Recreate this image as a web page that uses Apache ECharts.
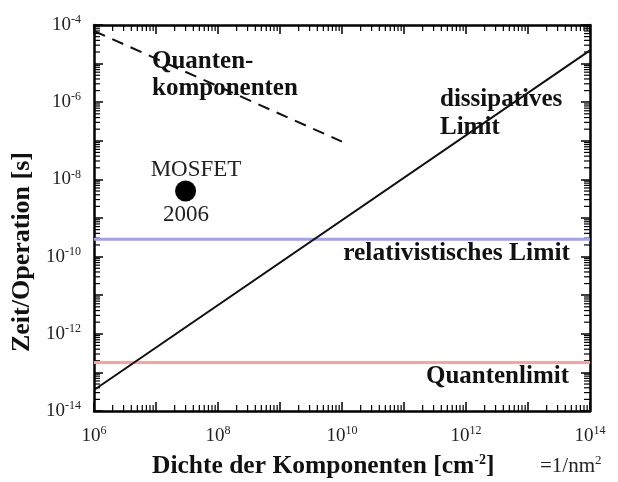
<!DOCTYPE html>
<html>
<head>
<meta charset="utf-8">
<script src="https://cdn.jsdelivr.net/npm/echarts@6/dist/echarts.min.js"></script>
<style>
html,body{margin:0;padding:0;background:#fff;}
#chart{width:618px;height:482px;}
</style>
</head>
<body>
<div id="chart"></div>
<script>
// ---- data ----
const xRange = [1e6, 1e14];
const yRange = [1e-14, 1e-4];
const dissipativeX = [1e6, 1e14];
const dissipativeY = [3.5e-14, 2.2e-5];
const quantumCompX = [1e6, 1e10];
const quantumCompY = [7e-5, 9.5e-8];
const relativisticY = 2.8e-10;
const quantumLimitY = 1.8e-13;
const mosfetPoint = [3e7, 5e-9];
const xDecades = [6, 7, 8, 9, 10, 11, 12, 13];
const yDecades = [-14, -13, -12, -11, -10, -9, -8, -7, -6, -5];
const minorFactors = [2, 3, 4, 5, 6, 7, 8, 9];

const FONT = "'Liberation Serif', 'Times New Roman', serif";

const minorX = [];
xDecades.forEach(e => minorFactors.forEach(k => minorX.push([k * Math.pow(10, e), yRange[0]])));
const minorY = [];
yDecades.forEach(e => minorFactors.forEach(k => minorY.push([xRange[0], k * Math.pow(10, e)])));

function expLabel(v) {
  const e = Math.round(Math.log10(v));
  if (e % 2 !== 0) return '';
  return '{b|10}{s|' + e + '}';
}
const labelRich = {
  b: {fontFamily: FONT, fontSize: 19, color: '#222', lineHeight: 22},
  s: {fontFamily: FONT, fontSize: 12, color: '#222', verticalAlign: 'top', lineHeight: 12}
};

const axisBase = {
  type: 'log', logBase: 10, interval: 1,
  axisLine: {show: true, onZero: false, lineStyle: {color: '#000', width: 2.5}},
  axisTick: {show: true, inside: true, length: 9, lineStyle: {color: '#000', width: 1.5}},
  splitLine: {show: false},
  minorTick: {show: false}
};

const chart = echarts.init(document.getElementById('chart'), null, {renderer: 'canvas'});
chart.setOption({
  animation: false,
  backgroundColor: '#fff',
  grid: {left: 94, right: 28, top: 25, bottom: 71},
  xAxis: [
    Object.assign({}, axisBase, {position: 'bottom', min: xRange[0], max: xRange[1],
      axisLabel: {show: true, margin: 14, formatter: expLabel, rich: labelRich}}),
    Object.assign({}, axisBase, {position: 'top', min: xRange[0], max: xRange[1], axisLabel: {show: false}})
  ],
  yAxis: [
    Object.assign({}, axisBase, {position: 'left', min: yRange[0], max: yRange[1],
      axisLabel: {show: true, margin: 13, formatter: expLabel, rich: labelRich}}),
    Object.assign({}, axisBase, {position: 'right', min: yRange[0], max: yRange[1], axisLabel: {show: false}})
  ],
  series: [
    {type: 'line', symbol: 'none', lineStyle: {color: '#a0a0f5', width: 3},
      data: [[xRange[0], relativisticY], [xRange[1], relativisticY]]},
    {type: 'line', symbol: 'none', lineStyle: {color: '#f5a3a3', width: 3},
      data: [[xRange[0], quantumLimitY], [xRange[1], quantumLimitY]]},
    {type: 'line', symbol: 'none', lineStyle: {color: '#111', width: 2},
      data: dissipativeX.map((x, i) => [x, dissipativeY[i]])},
    {type: 'line', symbol: 'none', lineStyle: {color: '#111', width: 2, type: [12, 8]},
      data: quantumCompX.map((x, i) => [x, quantumCompY[i]])},
    {type: 'scatter', symbol: 'circle', symbolSize: 21, itemStyle: {color: '#000', opacity: 1},
      data: [mosfetPoint]},
    {type: 'custom', silent: true, clip: false, data: minorX,
      renderItem: function (params, api) {
        const x = api.coord([api.value(0), api.value(1)])[0];
        const cs = params.coordSys;
        const st = {stroke: '#000', lineWidth: 1.2};
        return {type: 'group', children: [
          {type: 'line', shape: {x1: x, y1: cs.y + cs.height, x2: x, y2: cs.y + cs.height - 6}, style: st},
          {type: 'line', shape: {x1: x, y1: cs.y, x2: x, y2: cs.y + 6}, style: st}
        ]};
      }},
    {type: 'custom', silent: true, clip: false, data: minorY,
      renderItem: function (params, api) {
        const y = api.coord([api.value(0), api.value(1)])[1];
        const cs = params.coordSys;
        const st = {stroke: '#000', lineWidth: 1.2};
        return {type: 'group', children: [
          {type: 'line', shape: {x1: cs.x, y1: y, x2: cs.x + 6, y2: y}, style: st},
          {type: 'line', shape: {x1: cs.x + cs.width, y1: y, x2: cs.x + cs.width - 6, y2: y}, style: st}
        ]};
      }}
  ],
  graphic: [
    {type: 'text', x: 152, y: 62, style: {text: 'Quanten-', font: 'bold 25px ' + FONT, fill: '#111', textVerticalAlign: 'middle'}},
    {type: 'text', x: 152, y: 89, style: {text: 'komponenten', font: 'bold 25px ' + FONT, fill: '#111', textVerticalAlign: 'middle'}},
    {type: 'text', x: 440, y: 100, style: {text: 'dissipatives', font: 'bold 25px ' + FONT, fill: '#111', textVerticalAlign: 'middle'}},
    {type: 'text', x: 440, y: 128, style: {text: 'Limit', font: 'bold 25px ' + FONT, fill: '#111', textVerticalAlign: 'middle'}},
    {type: 'text', x: 570, y: 253, style: {text: 'relativistisches Limit', font: 'bold 25.5px ' + FONT, fill: '#111', textAlign: 'right', textVerticalAlign: 'middle'}},
    {type: 'text', x: 569, y: 377, style: {text: 'Quantenlimit', font: 'bold 25px ' + FONT, fill: '#111', textAlign: 'right', textVerticalAlign: 'middle'}},
    {type: 'text', x: 196, y: 170, style: {text: 'MOSFET', font: '23px ' + FONT, fill: '#222', textAlign: 'center', textVerticalAlign: 'middle'}},
    {type: 'text', x: 186, y: 215, style: {text: '2006', font: '23px ' + FONT, fill: '#222', textAlign: 'center', textVerticalAlign: 'middle'}},
    {type: 'text', x: 22, y: 252, rotation: Math.PI / 2,
      style: {text: 'Zeit/Operation [s]', font: 'bold 26px ' + FONT, fill: '#111', textAlign: 'center', textVerticalAlign: 'middle'}},
    {type: 'text', x: 152, y: 466,
      style: {text: '{t|Dichte der Komponenten [cm}{s|-2}{t|]}', textVerticalAlign: 'middle',
        rich: {t: {font: 'bold 25.5px ' + FONT, fill: '#111', lineHeight: 26},
               s: {font: 'bold 14px ' + FONT, fill: '#111', verticalAlign: 'top', lineHeight: 14}}}},
    {type: 'text', x: 540, y: 466,
      style: {text: '{t|=1/nm}{s|2}', textVerticalAlign: 'middle',
        rich: {t: {font: '21px ' + FONT, fill: '#222', lineHeight: 24},
               s: {font: '13px ' + FONT, fill: '#222', verticalAlign: 'top', lineHeight: 12}}}}
  ]
});
</script>
</body>
</html>
